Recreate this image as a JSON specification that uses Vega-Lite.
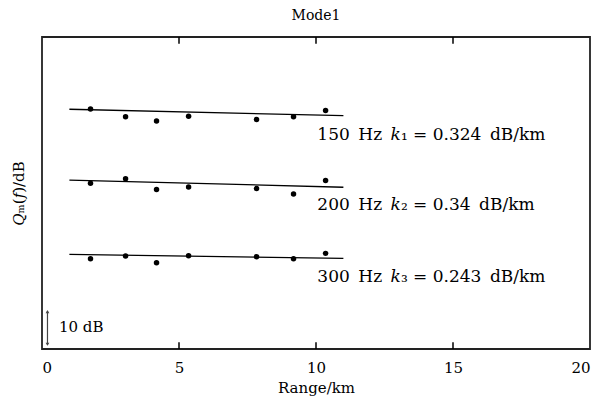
{
  "$schema": "https://vega.github.io/schema/vega-lite/v6.json",
  "width": 548,
  "height": 312,
  "autosize": {"type": "none"},
  "padding": {"left": 42, "top": 37, "right": 16, "bottom": 54},
  "background": "white",
  "title": {"text": "Mode1", "font": "DejaVu Serif", "fontSize": 14, "fontWeight": "normal", "color": "black", "offset": 13},
  "config": {
    "view": {"stroke": "#222", "strokeWidth": 1.8},
    "axis": {"labelFont": "DejaVu Serif", "titleFont": "DejaVu Serif", "labelColor": "black", "titleColor": "black", "grid": false}
  },
  "datasets": {
    "pts": [
      {"freq": "150 Hz", "range": 1.77, "q": 70.8},
      {"freq": "150 Hz", "range": 3.05, "q": 68.5},
      {"freq": "150 Hz", "range": 4.18, "q": 67.2},
      {"freq": "150 Hz", "range": 5.35, "q": 68.6},
      {"freq": "150 Hz", "range": 7.83, "q": 67.7},
      {"freq": "150 Hz", "range": 9.18, "q": 68.5},
      {"freq": "150 Hz", "range": 10.35, "q": 70.3},
      {"freq": "200 Hz", "range": 1.77, "q": 48.9},
      {"freq": "200 Hz", "range": 3.05, "q": 50.2},
      {"freq": "200 Hz", "range": 4.18, "q": 47.0},
      {"freq": "200 Hz", "range": 5.35, "q": 47.8},
      {"freq": "200 Hz", "range": 7.83, "q": 47.3},
      {"freq": "200 Hz", "range": 9.18, "q": 45.7},
      {"freq": "200 Hz", "range": 10.35, "q": 49.7},
      {"freq": "300 Hz", "range": 1.77, "q": 26.6},
      {"freq": "300 Hz", "range": 3.05, "q": 27.4},
      {"freq": "300 Hz", "range": 4.18, "q": 25.4},
      {"freq": "300 Hz", "range": 5.35, "q": 27.5},
      {"freq": "300 Hz", "range": 7.83, "q": 27.2},
      {"freq": "300 Hz", "range": 9.18, "q": 26.6},
      {"freq": "300 Hz", "range": 10.35, "q": 28.2}
    ],
    "fits": [
      {"freq": "150 Hz", "range": 1, "q": 70.7},
      {"freq": "150 Hz", "range": 11, "q": 68.8},
      {"freq": "200 Hz", "range": 1, "q": 49.8},
      {"freq": "200 Hz", "range": 11, "q": 47.7},
      {"freq": "300 Hz", "range": 1, "q": 27.9},
      {"freq": "300 Hz", "range": 11, "q": 26.7}
    ],
    "labels": [
      {"range": 10.05, "q": 63.1, "label": "150\u2002Hz\u2002𝑘₁ = 0.324\u2002dB/km"},
      {"range": 10.05, "q": 42.5, "label": "200\u2002Hz\u2002𝑘₂ = 0.34\u2002dB/km"},
      {"range": 10.05, "q": 21.2, "label": "300\u2002Hz\u2002𝑘₃ = 0.243\u2002dB/km"}
    ],
    "frametickrows": [
      {"range": 5, "q": 0, "q2": 2.0},
      {"range": 10, "q": 0, "q2": 2.0},
      {"range": 15, "q": 0, "q2": 2.0},
      {"range": 5, "q": 92, "q2": 90.0},
      {"range": 10, "q": 92, "q2": 90.0},
      {"range": 15, "q": 92, "q2": 90.0}
    ],
    "scalebar": [
      {"range": 0.2, "q": 1.2, "q2": 11.2}
    ],
    "arrows": [
      {"range": 0.2, "q": 11.0, "dir": "up"},
      {"range": 0.2, "q": 1.4, "dir": "down"}
    ],
    "scaletext": [
      {"range": 0.62, "q": 6.5, "label": "10 dB"}
    ]
  },
  "layer": [
    {
      "data": {"name": "fits"},
      "mark": {"type": "line", "color": "black", "strokeWidth": 1.3},
      "encoding": {
        "x": {"field": "range", "type": "quantitative", "scale": {"domain": [0, 20], "nice": false},
          "axis": {"orient": "bottom", "values": [0, 5, 10, 15, 20], "ticks": false, "domain": false, "labelFontSize": 15, "labelPadding": 11, "title": "Range/km", "titleFontSize": 15, "titleFontWeight": "normal", "titlePadding": 5}},
        "y": {"field": "q", "type": "quantitative", "scale": {"domain": [0, 92], "nice": false, "zero": false},
          "axis": {"ticks": false, "labels": false, "domain": false, "title": "𝑄ₘ(𝑓)/dB", "titleFontSize": 15, "titleFontWeight": "normal", "titlePadding": 16}},
        "detail": {"field": "freq"}
      }
    },
    {
      "data": {"name": "frametickrows"},
      "mark": {"type": "rule", "color": "black", "strokeWidth": 1.5},
      "encoding": {
        "x": {"field": "range", "type": "quantitative"},
        "y": {"field": "q", "type": "quantitative"},
        "y2": {"field": "q2"}
      }
    },
    {
      "data": {"name": "pts"},
      "mark": {"type": "point", "filled": true, "color": "black", "opacity": 1, "size": 30},
      "encoding": {
        "x": {"field": "range", "type": "quantitative"},
        "y": {"field": "q", "type": "quantitative"}
      }
    },
    {
      "data": {"name": "labels"},
      "mark": {"type": "text", "align": "left", "baseline": "middle", "font": "DejaVu Serif", "fontSize": 17, "color": "black"},
      "encoding": {
        "x": {"field": "range", "type": "quantitative"},
        "y": {"field": "q", "type": "quantitative"},
        "text": {"field": "label"}
      }
    },
    {
      "data": {"name": "scalebar"},
      "mark": {"type": "rule", "color": "#444", "strokeWidth": 1.2},
      "encoding": {
        "x": {"field": "range", "type": "quantitative"},
        "y": {"field": "q", "type": "quantitative"},
        "y2": {"field": "q2"}
      }
    },
    {
      "data": {"name": "arrows"},
      "mark": {"type": "point", "filled": true, "color": "#444", "opacity": 1, "size": 14},
      "encoding": {
        "x": {"field": "range", "type": "quantitative"},
        "y": {"field": "q", "type": "quantitative"},
        "shape": {"field": "dir", "type": "nominal", "scale": {"domain": ["up", "down"], "range": ["triangle-up", "triangle-down"]}, "legend": null}
      }
    },
    {
      "data": {"name": "scaletext"},
      "mark": {"type": "text", "align": "left", "baseline": "middle", "font": "DejaVu Serif", "fontSize": 15, "color": "black"},
      "encoding": {
        "x": {"field": "range", "type": "quantitative"},
        "y": {"field": "q", "type": "quantitative"},
        "text": {"field": "label"}
      }
    }
  ]
}
